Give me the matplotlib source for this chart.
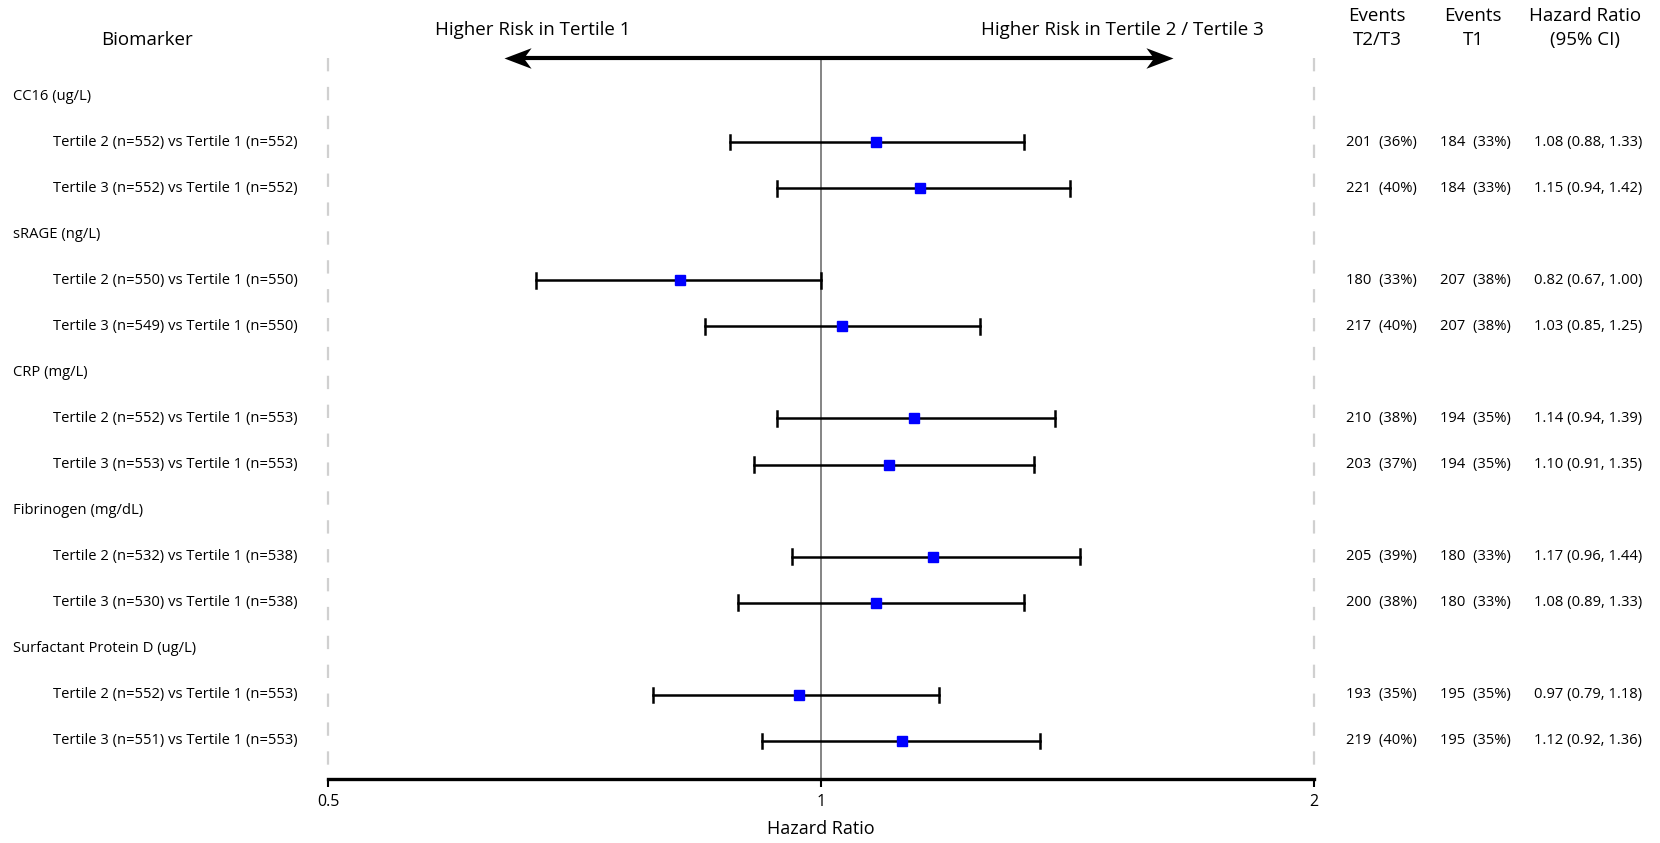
"""Forest plot: hazard ratios by biomarker tertile."""

import matplotlib

matplotlib.use("Agg")
import matplotlib.pyplot as plt
import matplotlib.transforms as mtransforms
from matplotlib.path import Path

plt.rcParams["font.family"] = ["Open Sans", "DejaVu Sans"]

biomarkers = ["CC16 (ug/L)", "sRAGE (ng/L)", "CRP (mg/L)", "Fibrinogen (mg/dL)", "Surfactant Protein D (ug/L)"]
comparisons = [
    "Tertile 2 (n=552) vs Tertile 1 (n=552)",
    "Tertile 3 (n=552) vs Tertile 1 (n=552)",
    "Tertile 2 (n=550) vs Tertile 1 (n=550)",
    "Tertile 3 (n=549) vs Tertile 1 (n=550)",
    "Tertile 2 (n=552) vs Tertile 1 (n=553)",
    "Tertile 3 (n=553) vs Tertile 1 (n=553)",
    "Tertile 2 (n=532) vs Tertile 1 (n=538)",
    "Tertile 3 (n=530) vs Tertile 1 (n=538)",
    "Tertile 2 (n=552) vs Tertile 1 (n=553)",
    "Tertile 3 (n=551) vs Tertile 1 (n=553)",
]
hr = [1.08, 1.15, 0.82, 1.03, 1.14, 1.10, 1.17, 1.08, 0.97, 1.12]
ci_low = [0.88, 0.94, 0.67, 0.85, 0.94, 0.91, 0.96, 0.89, 0.79, 0.92]
ci_high = [1.33, 1.42, 1.00, 1.25, 1.39, 1.35, 1.44, 1.33, 1.18, 1.36]
events_t23 = [201, 221, 180, 217, 210, 203, 205, 200, 193, 219]
pct_t23 = [36, 40, 33, 40, 38, 37, 39, 38, 35, 40]
events_t1 = [184, 184, 207, 207, 194, 194, 180, 180, 195, 195]
pct_t1 = [33, 33, 38, 38, 35, 35, 33, 33, 35, 35]

x_ticks = [0.5, 1, 2]
x_tick_labels = ["0.5", "1", "2"]
arrow_left, arrow_right = 0.64, 1.64

W, H = 1660, 843
fig = plt.figure(figsize=(W / 100, H / 100), dpi=100)
ax = fig.add_axes([328 / W, 1 - 779 / H, (1314 - 328) / W, 779 / H])
ax.set_xscale("log")
ax.set_xlim(0.5, 2)
row_px = 46.07
top_r = -96 / row_px
bot_r = (779 - 96) / row_px
ax.set_ylim(bot_r, top_r)

for side in ("top", "right", "left"):
    ax.spines[side].set_visible(False)
ax.spines["bottom"].set_linewidth(2.4)
ax.set_yticks([])
ax.set_xticks(x_ticks)
ax.set_xticklabels(x_tick_labels, fontsize=11.5)
ax.xaxis.set_minor_locator(matplotlib.ticker.NullLocator())
ax.tick_params(axis="x", length=6, width=1.5, pad=5)
ax.set_xlabel("Hazard Ratio", fontsize=13, labelpad=7)

arrow_r = (58 - 96) / row_px
ax.plot([1, 1], [arrow_r, bot_r], color="#707070", lw=1.2, zorder=1)
for xv in (0.5, 2):
    ax.plot([xv, xv], [arrow_r, bot_r - 0.15], color="#d0d0d0", lw=1.6,
            linestyle=(0, (6, 7)), zorder=1, clip_on=False)

# double-headed arrow with swept-back heads
head = Path([(0, 0), (-1, 0.38), (-0.72, 0), (-1, -0.38), (0, 0)],
            [Path.MOVETO, Path.LINETO, Path.LINETO, Path.LINETO, Path.CLOSEPOLY])
head_left = head.transformed(mtransforms.Affine2D().scale(-1, 1))
shift = 2 ** (19 / 492.5)
ax.plot([arrow_left * shift, arrow_right / shift], [arrow_r, arrow_r], color="black", lw=3,
        solid_capstyle="butt", zorder=3)
ax.plot(arrow_right, arrow_r, marker=head, markersize=39, color="black", mew=0, zorder=3)
ax.plot(arrow_left, arrow_r, marker=head_left, markersize=39, color="black", mew=0, zorder=3)

# row positions: header, two comparisons, repeat
data_rows = []
header_rows = []
r = 0
for name in biomarkers:
    header_rows.append(r)
    data_rows.extend([r + 1, r + 2])
    r += 3

for k, y in enumerate(data_rows):
    ax.plot([ci_low[k], ci_high[k]], [y, y], color="black", lw=1.8, zorder=2)
    for xv in (ci_low[k], ci_high[k]):
        ax.plot([xv, xv], [y - 0.16, y + 0.16], color="black", lw=1.8, zorder=2)
    ax.plot(hr[k], y, marker="s", markersize=7.5, color="#0000ff", zorder=4)

trans = mtransforms.blended_transform_factory(fig.transFigure, ax.transData)
fs = 10.6
for i, name in enumerate(biomarkers):
    ax.text(13 / W, header_rows[i], name, transform=trans, ha="left", va="center", fontsize=fs)
for k, y in enumerate(data_rows):
    ax.text(53 / W, y, comparisons[k], transform=trans, ha="left", va="center", fontsize=fs)
    ax.text(1381 / W, y, f"{events_t23[k]}  ({pct_t23[k]}%)", transform=trans,
            ha="center", va="center", fontsize=fs)
    ax.text(1475 / W, y, f"{events_t1[k]}  ({pct_t1[k]}%)", transform=trans,
            ha="center", va="center", fontsize=fs)
    ax.text(1588 / W, y, f"{hr[k]:.2f} ({ci_low[k]:.2f}, {ci_high[k]:.2f})", transform=trans,
            ha="center", va="center", fontsize=fs)

hfs = 13.5
fig.text(147 / W, 1 - 40 / H, "Biomarker", ha="center", va="center", fontsize=hfs)
fig.text(533 / W, 1 - 30 / H, "Higher Risk in Tertile 1", ha="center", va="center", fontsize=hfs)
fig.text(1122 / W, 1 - 30 / H, "Higher Risk in Tertile 2 / Tertile 3", ha="center", va="center", fontsize=hfs)
fig.text(1377 / W, 1 - 16 / H, "Events", ha="center", va="center", fontsize=hfs)
fig.text(1377 / W, 1 - 40 / H, "T2/T3", ha="center", va="center", fontsize=hfs)
fig.text(1473 / W, 1 - 16 / H, "Events", ha="center", va="center", fontsize=hfs)
fig.text(1473 / W, 1 - 40 / H, "T1", ha="center", va="center", fontsize=hfs)
fig.text(1585 / W, 1 - 16 / H, "Hazard Ratio", ha="center", va="center", fontsize=hfs)
fig.text(1585 / W, 1 - 40 / H, "(95% CI)", ha="center", va="center", fontsize=hfs)

fig.savefig("out.png", dpi=100)
